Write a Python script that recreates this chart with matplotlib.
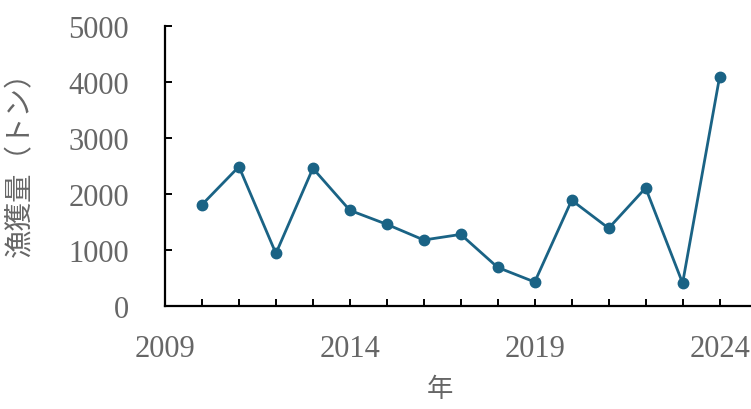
import matplotlib
matplotlib.use("Agg")
import matplotlib.pyplot as plt

# 年ごとの漁獲量（トン）
years = [2010, 2011, 2012, 2013, 2014, 2015, 2016, 2017,
         2018, 2019, 2020, 2021, 2022, 2023, 2024]
catch = [1810, 2490, 940, 2460, 1710, 1460, 1180, 1280,
         690, 430, 1890, 1390, 2110, 410, 4090]

xticks = [2009, 2014, 2019, 2024]
yticks = [0, 1000, 2000, 3000, 4000, 5000]

LINE = "#1a6385"
GRAY = "#666666"
SERIF = ["Liberation Serif", "DejaVu Serif"]
CJK = ["Noto Sans CJK JP", "DejaVu Sans"]

fig = plt.figure(figsize=(7.51, 4.10), dpi=100)
ax = fig.add_axes([0.2197, 0.251, 0.7803, 0.683])

ax.plot(years, catch, color=LINE, lw=2.0, marker="o", ms=7.5, clip_on=False)

ax.set_xlim(2009, 2024.85)
ax.set_ylim(0, 5000)
ax.set_xticks(range(2009, 2025), minor=True)
ax.set_xticks(xticks)
ax.set_yticks(yticks)

for s in ["top", "right"]:
    ax.spines[s].set_visible(False)
for s in ["left", "bottom"]:
    ax.spines[s].set_linewidth(1.6)
    ax.spines[s].set_color("black")

ax.tick_params(axis="both", which="both", direction="in", width=1.4, color="black")
ax.tick_params(axis="both", which="major", length=5)
ax.tick_params(axis="x", which="minor", length=5)
ax.tick_params(axis="x", which="major", pad=20)
ax.tick_params(axis="y", which="major", pad=26)

for lab in ax.get_xticklabels() + ax.get_yticklabels():
    lab.set_family(SERIF)
    lab.set_fontsize(22)
    lab.set_color(GRAY)

ax.set_xlabel("年", family=CJK, fontsize=19, color=GRAY, va="center")
ax.xaxis.set_label_coords(0.4693, -0.293)
ax.set_ylabel("漁獲量（トン）", family=CJK, fontsize=20.5, color=GRAY)
ax.yaxis.set_label_coords(-0.221, 0.536)

fig.savefig("out.png", dpi=100)
